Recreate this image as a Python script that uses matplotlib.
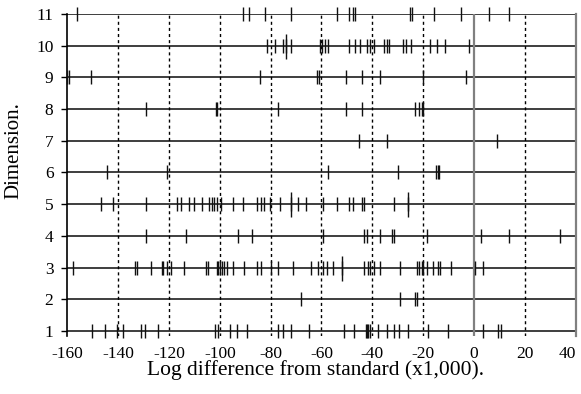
import matplotlib
matplotlib.use("Agg")
import matplotlib.pyplot as plt

# valeurs (log diff x1000), une liste par dimension
row1 = [-150.2, -145.2, -140.3, -138.2, -131.1, -129.3, -124.2, -101.9, -100.6, -96.0,
        -93.1, -89.2, -77.0, -75.3, -72.1, -64.9, -51.0, -47.1, -42.6, -42.1, -41.5,
        -41.0, -37.9, -34.1, -31.4, -29.4, -26.1, -18.2, -10.1, 3.7, 9.5, 10.5]
row2 = [-68.2, -29.1, -23.1, -22.3]
row3 = [-157.9, -133.2, -132.7, -127.2, -122.9, -122.2, -120.7, -119.2, -114.1, -105.4,
        -104.8, -101.2, -100.6, -99.9, -99.0, -98.2, -97.3, -94.7, -90.4, -85.3, -83.8,
        -79.9, -77.0, -71.3, -64.3, -61.5, -59.3, -58.0, -55.4, -52.1, -43.3, -41.6,
        -40.9, -39.2, -37.0, -29.1, -22.3, -21.5, -20.6, -20.0, -18.6, -16.0, -14.0,
        -13.3, -9.2, 0.4, 3.7]
row4 = [-129.0, -113.3, -93.0, -87.2, -59.3, -43.2, -42.2, -37.0, -32.4, -31.5, -18.4,
        2.6, 13.9, 33.8]
row5 = [-146.9, -142.1, -129.0, -117.0, -115.4, -112.0, -110.2, -107.1, -104.3, -103.2,
        -102.2, -101.0, -99.7, -94.9, -91.0, -85.3, -83.8, -82.5, -80.3, -76.3, -72.0,
        -69.1, -66.1, -59.3, -54.0, -49.1, -47.7, -44.1, -43.3, -31.4, -26.1]
row6 = [-144.3, -120.9, -57.3, -30.0, -15.0, -14.3, -13.7]
row7 = [-45.1, -34.4, 8.9]
row8 = [-129.2, -101.5, -101.0, -77.0, -50.4, -44.1, -23.1, -21.5, -20.6, -20.0]
row9 = [-160.0, -159.3, -150.8, -84.2, -61.6, -60.9, -50.4, -44.1, -37.0, -20.2, -3.3]
row10 = [-81.3, -78.3, -75.3, -74.0, -72.1, -60.4, -59.6, -58.6, -57.3, -49.1, -46.8,
         -44.9, -42.0, -40.9, -39.2, -35.4, -34.4, -33.3, -28.1, -26.8, -24.9, -17.3,
         -14.7, -11.4, -2.0]
row11 = [-156.1, -91.0, -88.4, -82.2, -72.1, -54.0, -49.1, -47.5, -46.7, -25.2, -24.4,
         -15.8, -5.3, 5.8, 13.9]
rows = [row1, row2, row3, row4, row5, row6, row7, row8, row9, row10, row11]

# traits plus longs (observations superposées)
long_dims = [10, 5, 5, 3]
long_vals = [-74.0, -72.0, -26.1, -52.1]

x_ticks = [-160, -140, -120, -100, -80, -60, -40, -20, 0, 20, 40]
y_ticks = list(range(1, 12))

plt.rcParams["font.family"] = ["Liberation Serif", "DejaVu Serif"]
plt.rcParams["axes.unicode_minus"] = False

fig = plt.figure(figsize=(5.81, 3.94), dpi=100)
ax = fig.add_axes([0.1158, 0.1472, 0.875, 0.8173])

for d in y_ticks:
    ax.axhline(d, color="#1e1e1e", lw=1.2, zorder=1)
for xv in x_ticks[1:-1]:
    if xv == 0:
        ax.axvline(xv, color="#808080", lw=1.6, zorder=1)
    else:
        ax.axvline(xv, color="black", lw=1.0, ls=(0, (2.2, 2.2)), zorder=1)

for d, vals in zip(y_ticks, rows):
    ax.plot(vals, [d] * len(vals), ls="none", marker="|", ms=9.5, mew=1.0,
            color="#111111", clip_on=False, zorder=3)
ax.plot(long_vals, long_dims, ls="none", marker="|", ms=18, mew=1.0,
        color="#111111", clip_on=False, zorder=3)

ax.set_xlim(-160, 40)
ax.set_ylim(0.842, 11)
ax.set_xticks(x_ticks)
ax.set_yticks(y_ticks)
ax.tick_params(axis="x", length=0, pad=7, labelsize=12.5)
ax.tick_params(axis="y", length=4, width=1, pad=6, labelsize=12.5)
ax.get_xticklabels()[-1].set_horizontalalignment("right")

ax.spines["top"].set_visible(False)
ax.spines["bottom"].set_visible(False)
ax.spines["left"].set_linewidth(1.2)
ax.spines["right"].set_color("#808080")
ax.spines["right"].set_linewidth(1.6)

ax.set_xlabel("Log difference from standard (x1,000).", fontsize=15.5, labelpad=-1)
ax.xaxis.set_label_coords(0.489, -0.075)
ax.set_ylabel("Dimension.", fontsize=15, va="center")
ax.yaxis.set_label_coords(-0.105, 0.575)

fig.savefig("out.png", dpi=100)
